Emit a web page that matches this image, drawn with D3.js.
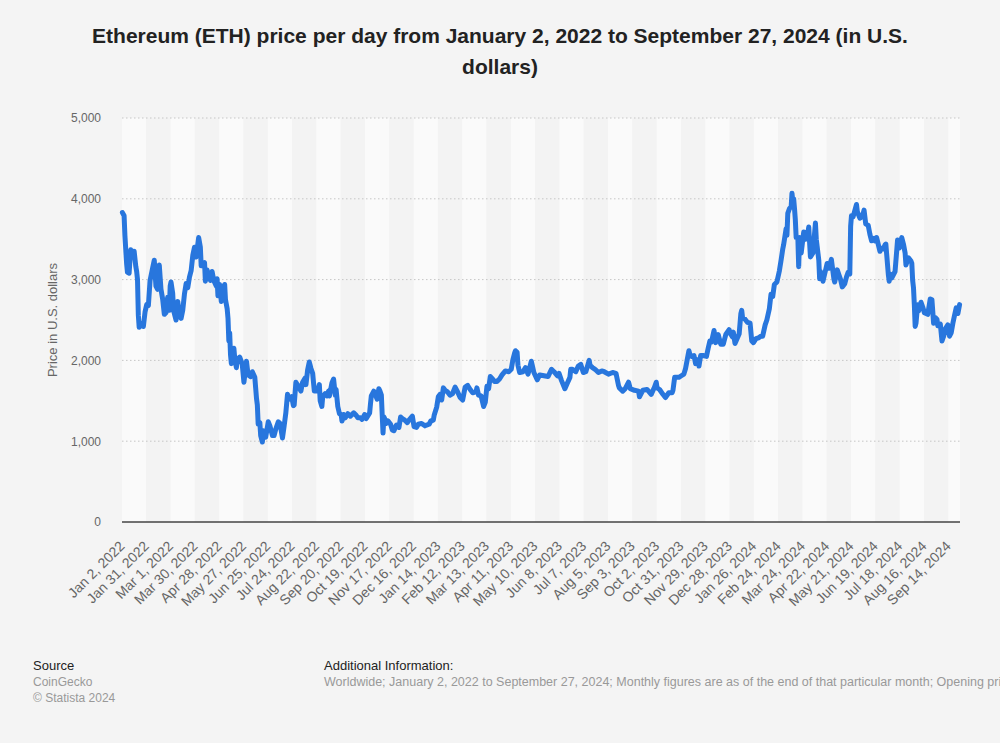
<!DOCTYPE html>
<html>
<head>
<meta charset="utf-8">
<script src="https://cdn.jsdelivr.net/npm/d3@7"></script>
<style>
  html, body { margin: 0; padding: 0; background: #f4f4f4; }
  svg { display: block; font-family: "Liberation Sans", Arial, sans-serif; }
</style>
</head>
<body>
<svg id="chart" width="1000" height="743"></svg>
<script>
// ---------------- DATA ----------------
const titleLines = [
  "Ethereum (ETH) price per day from January 2, 2022 to September 27, 2024 (in U.S.",
  "dollars)"
];
const yAxisTitle = "Price in U.S. dollars";
const yTicks = [0, 1000, 2000, 3000, 4000, 5000];
const xTickLabels = [
  "Jan 2, 2022","Jan 31, 2022","Mar 1, 2022","Mar 30, 2022","Apr 28, 2022","May 27, 2022",
  "Jun 25, 2022","Jul 24, 2022","Aug 22, 2022","Sep 20, 2022","Oct 19, 2022","Nov 17, 2022",
  "Dec 16, 2022","Jan 14, 2023","Feb 12, 2023","Mar 13, 2023","Apr 11, 2023","May 10, 2023",
  "Jun 8, 2023","Jul 7, 2023","Aug 5, 2023","Sep 3, 2023","Oct 2, 2023","Oct 31, 2023",
  "Nov 29, 2023","Dec 28, 2023","Jan 26, 2024","Feb 24, 2024","Mar 24, 2024","Apr 22, 2024",
  "May 21, 2024","Jun 19, 2024","Jul 18, 2024","Aug 16, 2024","Sep 14, 2024"
];
const firstDay = "2022-01-02";
const lastDay = "2024-09-27";

const dates = [
  "2022-01-02","2022-01-04","2022-01-05","2022-01-07","2022-01-08","2022-01-10","2022-01-11","2022-01-12",
  "2022-01-14","2022-01-16","2022-01-18","2022-01-19","2022-01-20","2022-01-21","2022-01-22","2022-01-24",
  "2022-01-26","2022-01-27","2022-01-29","2022-01-31","2022-02-02","2022-02-04","2022-02-07","2022-02-09",
  "2022-02-11","2022-02-13","2022-02-15","2022-02-17","2022-02-19","2022-02-21","2022-02-23","2022-02-25",
  "2022-02-27","2022-02-28","2022-03-01","2022-03-03","2022-03-04","2022-03-07","2022-03-09","2022-03-11",
  "2022-03-13","2022-03-15","2022-03-17","2022-03-19","2022-03-21","2022-03-23","2022-03-25","2022-03-27",
  "2022-03-29","2022-03-31","2022-04-02","2022-04-03","2022-04-05","2022-04-06","2022-04-08","2022-04-10",
  "2022-04-11","2022-04-13","2022-04-15","2022-04-17","2022-04-19","2022-04-21","2022-04-24","2022-04-25",
  "2022-04-26","2022-04-28","2022-04-30","2022-05-02","2022-05-04","2022-05-05","2022-05-07","2022-05-08",
  "2022-05-09","2022-05-10","2022-05-11","2022-05-12","2022-05-15","2022-05-16","2022-05-18","2022-05-19",
  "2022-05-22","2022-05-25","2022-05-27","2022-05-30","2022-06-01","2022-06-04","2022-06-06","2022-06-09",
  "2022-06-10","2022-06-11","2022-06-12","2022-06-13","2022-06-15","2022-06-16","2022-06-18","2022-06-19",
  "2022-06-22","2022-06-25","2022-06-27","2022-06-30","2022-07-02","2022-07-04","2022-07-07","2022-07-09",
  "2022-07-12","2022-07-14","2022-07-16","2022-07-18","2022-07-20","2022-07-23","2022-07-25","2022-07-26",
  "2022-07-28","2022-07-31","2022-08-03","2022-08-05","2022-08-08","2022-08-09","2022-08-11","2022-08-13",
  "2022-08-15","2022-08-17","2022-08-19","2022-08-21","2022-08-24","2022-08-25","2022-08-26","2022-08-28",
  "2022-08-29","2022-09-01","2022-09-03","2022-09-05","2022-09-06","2022-09-09","2022-09-11","2022-09-13",
  "2022-09-14","2022-09-16","2022-09-18","2022-09-20","2022-09-21","2022-09-23","2022-09-25","2022-09-28",
  "2022-10-01","2022-10-05","2022-10-08","2022-10-10","2022-10-13","2022-10-15","2022-10-18","2022-10-20",
  "2022-10-24","2022-10-25","2022-10-26","2022-10-29","2022-10-31","2022-11-02","2022-11-04","2022-11-05",
  "2022-11-07","2022-11-08","2022-11-09","2022-11-10","2022-11-11","2022-11-13","2022-11-15","2022-11-18",
  "2022-11-20","2022-11-22","2022-11-25","2022-11-28","2022-11-30","2022-12-02","2022-12-05","2022-12-08",
  "2022-12-10","2022-12-14","2022-12-16","2022-12-19","2022-12-21","2022-12-25","2022-12-29","2022-12-31",
  "2023-01-03","2023-01-05","2023-01-08","2023-01-09","2023-01-12","2023-01-14","2023-01-16","2023-01-18",
  "2023-01-20","2023-01-22","2023-01-25","2023-01-28","2023-01-31","2023-02-03","2023-02-06","2023-02-09",
  "2023-02-12","2023-02-15","2023-02-18","2023-02-21","2023-02-24","2023-02-28","2023-03-01","2023-03-03",
  "2023-03-06","2023-03-09","2023-03-11","2023-03-13","2023-03-15","2023-03-17","2023-03-19","2023-03-22",
  "2023-03-25","2023-03-28","2023-03-31","2023-04-04","2023-04-08","2023-04-11","2023-04-13","2023-04-15",
  "2023-04-16","2023-04-18","2023-04-19","2023-04-21","2023-04-25","2023-04-28","2023-05-01","2023-05-05",
  "2023-05-08","2023-05-12","2023-05-15","2023-05-20","2023-05-25","2023-05-29","2023-06-01","2023-06-05",
  "2023-06-07","2023-06-10","2023-06-14","2023-06-17","2023-06-20","2023-06-21","2023-06-23","2023-06-27",
  "2023-06-30","2023-07-03","2023-07-06","2023-07-09","2023-07-13","2023-07-14","2023-07-17","2023-07-20",
  "2023-07-24","2023-07-28","2023-07-31","2023-08-05","2023-08-10","2023-08-14","2023-08-17","2023-08-18",
  "2023-08-22","2023-08-25","2023-08-29","2023-08-31","2023-09-05","2023-09-10","2023-09-11","2023-09-15",
  "2023-09-20","2023-09-25","2023-09-29","2023-10-01","2023-10-02","2023-10-05","2023-10-09","2023-10-12",
  "2023-10-16","2023-10-20","2023-10-21","2023-10-23","2023-10-24","2023-10-28","2023-10-31","2023-11-03",
  "2023-11-05","2023-11-09","2023-11-10","2023-11-12","2023-11-15","2023-11-17","2023-11-20","2023-11-21",
  "2023-11-23","2023-11-26","2023-11-30","2023-12-02","2023-12-04","2023-12-06","2023-12-09","2023-12-11",
  "2023-12-14","2023-12-17","2023-12-20","2023-12-23","2023-12-27","2023-12-28","2023-12-31","2024-01-01",
  "2024-01-03","2024-01-08","2024-01-10","2024-01-11","2024-01-12","2024-01-15","2024-01-18","2024-01-21",
  "2024-01-23","2024-01-25","2024-01-28","2024-01-31","2024-02-03","2024-02-05","2024-02-08","2024-02-10",
  "2024-02-13","2024-02-15","2024-02-17","2024-02-19","2024-02-22","2024-02-25","2024-02-27","2024-02-29",
  "2024-03-01","2024-03-04","2024-03-05","2024-03-06","2024-03-08","2024-03-10","2024-03-11","2024-03-12",
  "2024-03-13","2024-03-14","2024-03-15","2024-03-16","2024-03-18","2024-03-19","2024-03-20","2024-03-22",
  "2024-03-25","2024-03-27","2024-03-29","2024-03-31","2024-04-02","2024-04-05","2024-04-08","2024-04-09",
  "2024-04-12","2024-04-13","2024-04-14","2024-04-17","2024-04-19","2024-04-22","2024-04-24","2024-04-27",
  "2024-04-30","2024-05-01","2024-05-04","2024-05-06","2024-05-08","2024-05-10","2024-05-13","2024-05-15",
  "2024-05-17","2024-05-19","2024-05-20","2024-05-21","2024-05-23","2024-05-27","2024-05-28","2024-05-31",
  "2024-06-03","2024-06-05","2024-06-07","2024-06-10","2024-06-12","2024-06-14","2024-06-17","2024-06-18",
  "2024-06-20","2024-06-24","2024-06-25","2024-06-28","2024-06-30","2024-07-01","2024-07-04","2024-07-05",
  "2024-07-06","2024-07-08","2024-07-12","2024-07-15","2024-07-17","2024-07-20","2024-07-22","2024-07-24",
  "2024-07-25","2024-07-28","2024-07-31","2024-08-01","2024-08-02","2024-08-03","2024-08-04","2024-08-05",
  "2024-08-06","2024-08-08","2024-08-09","2024-08-12","2024-08-14","2024-08-16","2024-08-20","2024-08-23",
  "2024-08-25","2024-08-27","2024-08-29","2024-08-31","2024-09-01","2024-09-04","2024-09-06","2024-09-08",
  "2024-09-10","2024-09-13","2024-09-15","2024-09-17","2024-09-19","2024-09-21","2024-09-23","2024-09-25",
  "2024-09-27"
];
const prices = [
  3830,3790,3540,3200,3090,3080,3240,3370,
  3310,3350,3160,3100,3000,2560,2410,2440,
  2460,2420,2600,2690,2680,2990,3140,3240,
  2920,2880,3180,2880,2760,2570,2590,2780,
  2620,2920,2970,2830,2620,2500,2730,2560,
  2520,2620,2820,2950,2900,3030,3110,3300,
  3400,3280,3440,3520,3400,3170,3190,3210,
  2980,3120,3040,2990,3100,2990,2920,3010,
  2800,2940,2730,2860,2940,2750,2640,2520,
  2240,2340,2070,1960,2150,2030,1910,2010,
  2040,1950,1730,1990,1820,1800,1860,1790,
  1660,1530,1450,1210,1230,1070,990,1130,
  1050,1240,1190,1070,1070,1150,1240,1220,
  1040,1190,1350,1580,1520,1550,1440,1450,
  1730,1680,1620,1730,1780,1700,1880,1980,
  1900,1840,1620,1620,1660,1700,1500,1430,
  1550,1590,1560,1620,1560,1720,1770,1570,
  1640,1430,1340,1330,1250,1330,1290,1340,
  1310,1350,1320,1290,1290,1270,1330,1280,
  1350,1460,1560,1620,1570,1520,1650,1630,
  1570,1330,1100,1300,1280,1220,1250,1210,
  1140,1130,1200,1170,1300,1280,1260,1230,
  1260,1310,1180,1170,1210,1220,1190,1200,
  1210,1250,1260,1320,1420,1550,1580,1510,
  1660,1630,1610,1570,1590,1670,1610,1540,
  1510,1670,1690,1640,1600,1610,1660,1570,
  1560,1430,1480,1680,1650,1800,1780,1740,
  1740,1770,1820,1870,1860,1890,2010,2090,
  2120,2100,1940,1850,1860,1910,1830,1990,
  1850,1760,1820,1810,1800,1890,1860,1810,
  1840,1750,1650,1720,1790,1890,1890,1860,
  1930,1950,1850,1860,2000,1940,1910,1890,
  1850,1870,1860,1830,1850,1840,1690,1660,
  1620,1650,1730,1650,1630,1620,1550,1630,
  1640,1580,1670,1730,1660,1640,1580,1540,
  1600,1600,1630,1790,1790,1790,1810,1830,
  1900,2120,2080,2050,2060,1960,2010,1930,
  2060,2060,2050,2150,2240,2230,2370,2220,
  2320,2200,2200,2320,2380,2340,2290,2350,
  2210,2330,2580,2620,2530,2510,2470,2460,
  2240,2220,2270,2280,2300,2300,2440,2500,
  2640,2820,2790,2940,2970,3110,3240,3380,
  3430,3630,3550,3820,3880,3900,4070,3970,
  4000,3880,3740,3520,3520,3160,3520,3330,
  3590,3500,3510,3650,3280,3330,3700,3500,
  3240,3010,3100,2980,3070,3200,3140,3250,
  3010,2970,3120,3060,3000,2910,2950,3030,
  3090,3070,3660,3790,3780,3930,3840,3760,
  3780,3860,3690,3670,3560,3480,3510,3480,
  3520,3350,3390,3380,3430,3440,3060,2980,
  3070,3020,3100,3490,3390,3520,3440,3330,
  3180,3270,3230,3200,2990,2900,2690,2420,
  2460,2690,2610,2720,2660,2590,2570,2760,
  2750,2460,2530,2510,2430,2450,2240,2300,
  2390,2440,2300,2340,2460,2560,2650,2580,
  2690
];

const sourceLines = ["CoinGecko", "© Statista 2024"];
const additionalInfo = "Worldwide; January 2, 2022 to September 27, 2024; Monthly figures are as of the end of that particular month; Opening price";

// ---------------- CHART ----------------
const svg = d3.select("#chart");
const W = 1000;
const plot = { left: 122, right: 960, top: 118, bottom: 522 };

const parseISO = d3.utcParse("%Y-%m-%d");
const parseLabel = d3.utcParse("%b %d, %Y");
const start = parseISO(firstDay);
const end = d3.utcDay.offset(parseISO(lastDay), 1);

const x = d3.scaleUtc().domain([start, end]).range([plot.left, plot.right]);
const y = d3.scaleLinear().domain([0, 5000]).range([plot.bottom, plot.top]);

svg.append("rect").attr("width", W).attr("height", 743).attr("fill", "#f4f4f4");

// alternating bands
const tickDates = xTickLabels.map(parseLabel);
svg.append("g").selectAll("rect").data(tickDates).join("rect")
  .attr("x", d => x(d))
  .attr("y", plot.top)
  .attr("width", (d, i) => (i + 1 < tickDates.length ? x(tickDates[i + 1]) : plot.right) - x(d))
  .attr("height", plot.bottom - plot.top)
  .attr("fill", (d, i) => i % 2 === 0 ? "#fafafa" : "#f3f3f3");

// gridlines
svg.append("g").selectAll("line").data(yTicks.filter(v => v > 0)).join("line")
  .attr("x1", plot.left).attr("x2", plot.right)
  .attr("y1", d => y(d)).attr("y2", d => y(d))
  .attr("stroke", "#c6c6c6").attr("stroke-width", 1)
  .attr("stroke-dasharray", "1.5,2.5");

// y axis labels
const yAxis = d3.axisLeft(y).tickValues(yTicks).tickFormat(d3.format(",")).tickSize(0).tickPadding(0);
const gy = svg.append("g").attr("transform", `translate(101,0)`).call(yAxis);
gy.select(".domain").remove();
gy.selectAll("text").attr("fill", "#666").attr("font-size", "12px")
  .attr("font-family", "'Liberation Sans', Arial, sans-serif");

// y title
svg.append("text")
  .attr("transform", `translate(57,320) rotate(-90)`)
  .attr("text-anchor", "middle")
  .attr("fill", "#666").attr("font-size", "13px")
  .text(yAxisTitle);

// x axis labels
const xAxis = d3.axisBottom(x).tickValues(tickDates).tickFormat((d, i) => xTickLabels[i]).tickSize(0).tickPadding(0);
const gx = svg.append("g").attr("transform", `translate(0,${plot.bottom})`).call(xAxis);
gx.select(".domain").remove();
gx.selectAll("text")
  .attr("fill", "#666").attr("font-size", "14px")
  .attr("font-family", "'Liberation Sans', Arial, sans-serif")
  .attr("text-anchor", "end")
  .attr("dy", null).attr("y", null)
  .attr("transform", "translate(3,25) rotate(-45)");

// baseline
svg.append("line")
  .attr("x1", plot.left).attr("x2", plot.right)
  .attr("y1", y(0)).attr("y2", y(0))
  .attr("stroke", "#444").attr("stroke-width", 1.5);

// line
const data = dates.map((d, i) => ({ date: d3.utcHour.offset(parseISO(d), 12), value: prices[i] }));
const line = d3.line().x(d => x(d.date)).y(d => y(d.value));
svg.append("path").datum(data)
  .attr("d", line)
  .attr("fill", "none")
  .attr("stroke", "#2876dd")
  .attr("stroke-width", 5)
  .attr("stroke-linejoin", "round")
  .attr("stroke-linecap", "round");

// title
svg.append("g").selectAll("text").data(titleLines).join("text")
  .attr("x", 500).attr("y", (d, i) => 43 + i * 31)
  .attr("text-anchor", "middle")
  .attr("font-weight", "bold").attr("font-size", "21px")
  .attr("fill", "#222")
  .text(d => d);

// footer
svg.append("text").attr("x", 33).attr("y", 670).attr("font-size", "13px").attr("fill", "#222").text("Source");
svg.append("g").selectAll("text").data(sourceLines).join("text")
  .attr("x", 33).attr("y", (d, i) => 686 + i * 15.5)
  .attr("font-size", "12px").attr("fill", "#999").text(d => d);
svg.append("text").attr("x", 324).attr("y", 670).attr("font-size", "13px").attr("fill", "#222").text("Additional Information:");
svg.append("text").attr("x", 324).attr("y", 686).attr("font-size", "12.5px").attr("fill", "#999").text(additionalInfo);
</script>
</body>
</html>
